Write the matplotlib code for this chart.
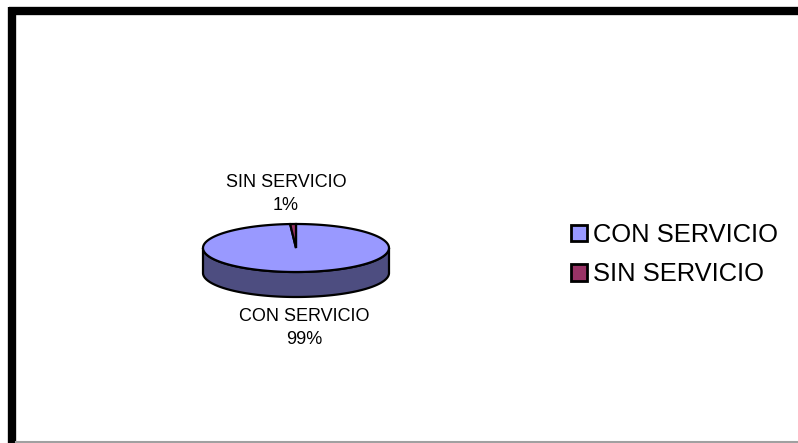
import numpy as np
import matplotlib
matplotlib.use("Agg")
import matplotlib.pyplot as plt
import matplotlib.patches as mpatches

plt.rcParams["font.family"] = ["Liberation Sans", "DejaVu Sans"]

# ── Data ────────────────────────────────────────────────────
categories = ["CON SERVICIO", "SIN SERVICIO"]
values     = [99, 1]
top_colors  = ["#9999FF", "#993366"]
side_colors = ["#4D4D80", "#4D1A33"]

# ── Geometry of the 3D pie (pixel space) ────────────────────
CX, CY = 296, 248
RX, RY = 93, 24
DEPTH  = 25

fig = plt.figure(figsize=(7.98, 4.43), dpi=100)
ax = fig.add_axes([0, 0, 1, 1])
ax.set_xlim(0, 798)
ax.set_ylim(443, 0)
ax.axis("off")

# outer frame (chart area border): thick left/top, thin grey bottom
ax.plot([12, 12], [7, 443], color="black", linewidth=6, solid_capstyle="butt", zorder=1)
ax.plot([9, 798], [11, 11], color="black", linewidth=6, solid_capstyle="butt", zorder=1)
ax.plot([16, 798], [441.5, 441.5], color="#A0A0A0", linewidth=1.5, zorder=1)


def ell(theta, dy=0):
    # theta in degrees, clockwise from 12 o'clock
    t = np.radians(theta)
    return CX + RX * np.sin(t), CY - RY * np.cos(t) + dy


fracs = np.array(values, dtype=float) / sum(values)
bounds = np.concatenate([[0], np.cumsum(fracs) * 360])

# side walls (front half: 90..270 deg)
for i in range(len(values)):
    a0, a1 = max(bounds[i], 90), min(bounds[i + 1], 270)
    if a1 <= a0:
        continue
    th = np.linspace(a0, a1, 200)
    xt, yt = ell(th)
    xb, yb = ell(th[::-1], DEPTH)
    ax.fill(np.concatenate([xt, xb]), np.concatenate([yt, yb]),
            facecolor=side_colors[i], edgecolor="black", linewidth=1.6, zorder=2)

# top faces
for i in range(len(values)):
    th = np.linspace(bounds[i], bounds[i + 1], 400)
    xt, yt = ell(th)
    ax.fill(np.concatenate([[CX], xt]), np.concatenate([[CY], yt]),
            facecolor=top_colors[i], edgecolor="black", linewidth=1.6,
            joinstyle="miter", zorder=3)

# data labels
ax.text(286, 194, f"{categories[1]}\n{values[1]}%", ha="center", va="center",
        fontsize=13, linespacing=1.5, zorder=4)
ax.text(304, 328, f"{categories[0]}\n{values[0]}%", ha="center", va="center",
        fontsize=13, linespacing=1.5, zorder=4)

# legend
handles = [mpatches.Patch(facecolor=c, edgecolor="black", linewidth=2, label=l)
           for l, c in zip(categories, top_colors)]
leg = ax.legend(handles=handles, loc="upper left", bbox_to_anchor=(571 / 798, 1 - 223 / 443),
                frameon=False, fontsize=18.4, handlelength=0.62, handleheight=0.62,
                handletextpad=0.25, labelspacing=0.6, borderaxespad=0, borderpad=0)

fig.savefig("out.png", dpi=100)
